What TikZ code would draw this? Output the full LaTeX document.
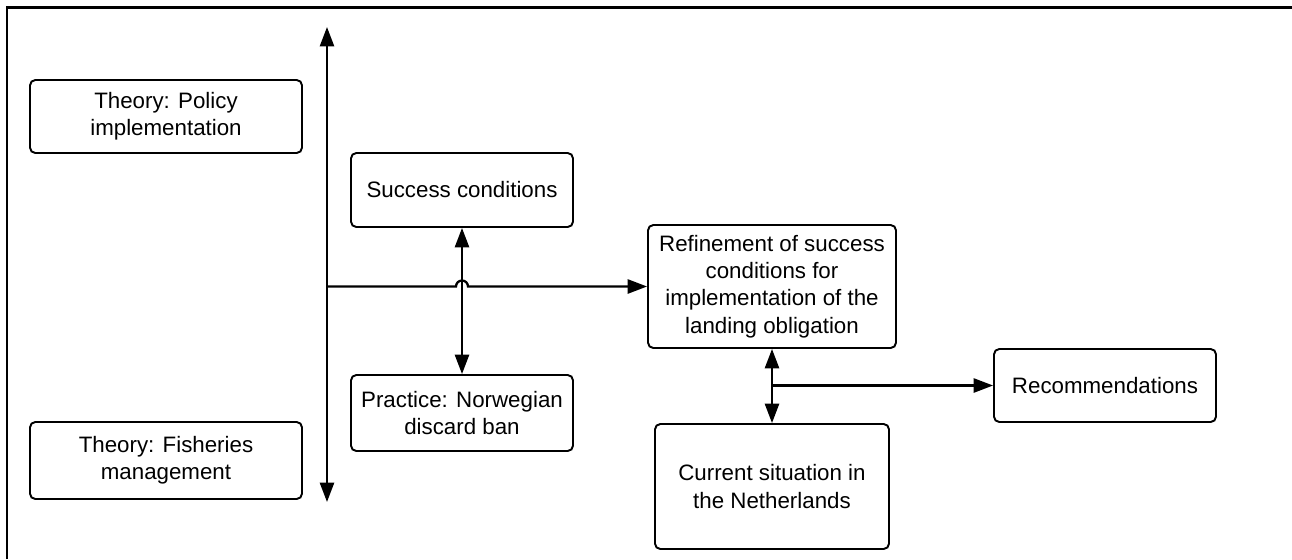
\documentclass[tikz,border=0pt]{standalone}
\usepackage{fontspec}
\setmainfont{Liberation Sans}
\usepackage{tikz}
\usetikzlibrary{arrows.meta}
\usetikzlibrary{positioning}
\tikzset{arrowout/.style={-{Triangle[length=11pt,width=8pt]},line width=1.3pt},arrowboth/.style={{Triangle[length=11pt,width=8pt]}-{Triangle[length=11pt,width=8pt]},line width=1.3pt},box/.style={rectangle, rounded corners=3pt, line width=1.1pt, text centered, draw=black, inner sep=2pt, font=\fontsize{12.7}{15.5}\selectfont}}

\begin{document}
\begin{tikzpicture} [align=center, x=0.02cm, y=-0.02cm]

\useasboundingbox (0, 0) rectangle (1292, 559);
\draw[line width=1.7pt] (7, 559) -- (7, 7) -- (1292, 7);

\node(policy) at (166, 116.5) [box, minimum width=5.44cm, minimum height=1.46cm] {Theory: Policy\\implementation};
\node(fish) at (166, 460.5) [box, minimum width=5.44cm, minimum height=1.54cm] {Theory: Fisheries\\management};
\node(success) at (462, 190) [box, minimum width=4.44cm, minimum height=1.48cm] {Success conditions};
\node(practice) at (462, 413) [box, minimum width=4.44cm, minimum height=1.52cm] {Practice: Norwegian\\discard ban};
\node(refine) at (772, 286.5) [box, minimum width=4.96cm, minimum height=2.46cm] {Refinement of success\\conditions for\\implementation of the\\landing obligation};
\node(current) at (772, 486.5) [box, minimum width=4.68cm, minimum height=2.5cm] {Current situation in\\the Netherlands};
\node(recom) at (1105, 385.5) [box, minimum width=4.44cm, minimum height=1.46cm] {Recommendations};

\coordinate(axtop) at (327, 27);
\coordinate(axbot) at (327, 502);
\coordinate(axis) at (327, 286.5);
\coordinate(hop) at (456, 286.5);
\coordinate(split) at (772, 385.5);

\draw[arrowboth] (axtop) -- (axbot);
\draw[arrowout] (axis) -- (hop) arc[start angle=180, end angle=0, radius=0.12cm] -- (refine);
\draw (success) edge[arrowboth] (practice);
\draw (refine) edge[arrowboth] (current);
\draw (split) edge[arrowout] (recom);

\end{tikzpicture}
\end{document}
